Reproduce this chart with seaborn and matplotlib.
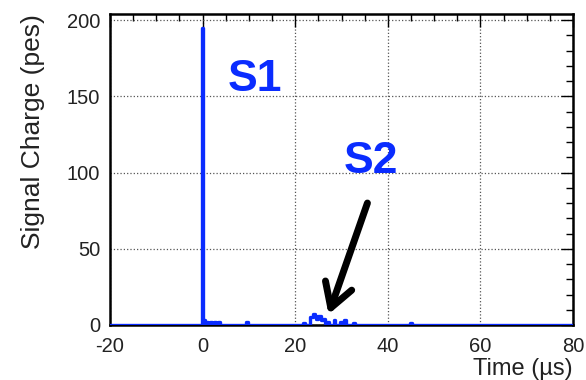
import matplotlib
matplotlib.use("Agg")
import matplotlib.pyplot as plt
from matplotlib.ticker import MultipleLocator
import seaborn as sns
import pandas as pd

# Bin start times (µs) and charge (pes) held until the next time (step-post)
time_us = [-20.0, -0.1, 0.1, 0.5, 0.9, 1.2, 1.7, 2.0, 2.5, 2.9, 3.3, 3.7,
           9.3, 9.9, 21.6, 22.1, 23.3, 23.8, 24.2, 24.6, 25.0, 25.5, 26.0,
           26.4, 26.8, 27.3, 28.3, 28.7, 29.6, 30.0, 30.6, 31.0, 32.5, 32.9,
           44.8, 45.2, 80.0]
charge_pes = [0, 195, 3, 0, 2, 0, 2, 0, 2, 0, 2, 0,
              2, 0, 1, 0, 5, 7, 6, 4, 6, 3, 4,
              1, 2, 0, 3, 0, 2, 0, 3, 0, 1, 0,
              1, 0, 0]

x_ticks = [-20, 0, 20, 40, 60, 80]
y_ticks = [0, 50, 100, 150, 200]

df = pd.DataFrame({"time": time_us, "charge": charge_pes})

sns.set_theme(style="white")
plt.rcParams["font.family"] = ["Liberation Sans", "DejaVu Sans"]
plt.rcParams["axes.unicode_minus"] = False

fig = plt.figure(figsize=(5.86, 3.80), dpi=100)
ax = fig.add_axes([110 / 586, 1 - 325 / 380, 463 / 586, 311 / 380])

sns.lineplot(data=df, x="time", y="charge", ax=ax, estimator=None, sort=False,
             drawstyle="steps-post", color="#0a2cff", lw=2.4, zorder=3)

ax.set_xlim(-20, 80)
ax.set_ylim(0, 204)
ax.set_xticks(x_ticks)
ax.set_yticks(y_ticks)
ax.xaxis.set_minor_locator(MultipleLocator(5))
ax.yaxis.set_minor_locator(MultipleLocator(10))
ax.grid(True, which="major", linestyle=":", color="#555555", lw=0.9)
ax.tick_params(which="both", direction="in", top=True, right=True,
               color="black", width=1.0, labelsize=14.5, labelcolor="#222222")
ax.tick_params(which="major", length=9)
ax.tick_params(which="minor", length=5)
ax.tick_params(axis="x", pad=9)
ax.tick_params(axis="y", pad=7)
for s in ax.spines.values():
    s.set_linewidth(1.8)
    s.set_color("black")

ax.set_xlabel("Time (µs)", loc="right", fontsize=17, color="#222222", labelpad=1)
ax.set_ylabel("Signal Charge (pes)", loc="top", fontsize=19, color="#222222", labelpad=16)

ax.text(11.2, 161, "S1", color="#0a2cff", fontsize=32, fontweight="bold",
        ha="center", va="center")
ax.text(36.4, 107, "S2", color="#0a2cff", fontsize=32, fontweight="bold",
        ha="center", va="center")
ax.annotate("", xy=(27.2, 7.0), xytext=(35.6, 80),
            arrowprops=dict(arrowstyle="->,head_width=0.5,head_length=0.85",
                            lw=5, color="black", mutation_scale=20,
                            shrinkA=0, shrinkB=0))

fig.savefig("out.png", dpi=100)
